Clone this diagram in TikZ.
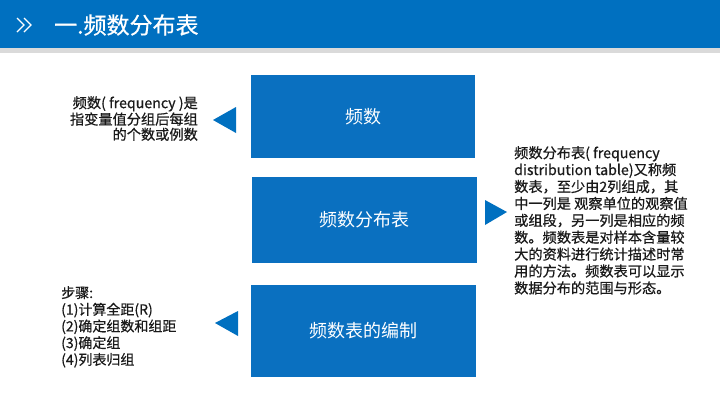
\documentclass[tikz,border=0pt]{standalone}
\usepackage{fontspec}
\setmainfont{Noto Sans CJK SC}
\newfontfamily\descfont[FakeBold=0.6]{Noto Sans CJK SC}
\usetikzlibrary{positioning}
\definecolor{hblue}{HTML}{0070C0}
\definecolor{bblue}{HTML}{0A70C0}
\definecolor{gstrip}{HTML}{DADADA}
\definecolor{txt}{HTML}{1A1A1A}
\begin{document}
\begin{tikzpicture}[x=1pt,y=-1pt,
  bluebox/.style={fill=bblue,draw=none,text=white,font=\fontsize{18}{21}\selectfont},
  tri/.style={fill=hblue,draw=none},
  desc/.style={text=txt,inner sep=0pt}]
\useasboundingbox (0,0) rectangle (720,405);
\fill[white] (0,0) rectangle (720,405);
% header
\fill[hblue] (0,0) rectangle (720,48);
\fill[gstrip] (0,48) rectangle (720,53);
\draw[white,line width=1.1pt] (17,18) -- (24,25) -- (17,32);
\draw[white,line width=1.1pt] (24,18) -- (31,25) -- (24,32);
\node[anchor=west,text=white,font=\fontsize{23}{27}\selectfont\descfont,inner sep=0pt] (title) at (54,25) {一.频数分布表};
% boxes
\path[bluebox] (251,75) rectangle (475,158) node[midway] (b1) {频数};
\path[bluebox] (252,177) rectangle (477,263) node[midway] (b2) {频数分布表};
\path[bluebox] (251,285) rectangle (476,377) node[midway] (b3) {频数表的编制};
% triangles
\fill[tri] (213,120) -- (236,107) -- (236,133) -- cycle;
\fill[tri] (507,212) -- (485,200) -- (485,225) -- cycle;
\fill[tri] (215,323) -- (238,311) -- (238,336) -- cycle;
% texts
\node[desc,anchor=north east,align=right,font=\fontsize{14.2}{15.2}\selectfont\descfont] (t1) at (198,96)
  {频数( frequency )是\\指变量值分组后每组\\的个数或例数};
\node[desc,anchor=north west,align=left,font=\fontsize{14.2}{16.9}\selectfont\descfont] (t2) at (514,146)
  {频数分布表( frequency\\distribution table)又称频\\数表，至少由2列组成，其\\中一列是 观察单位的观察值\\或组段，另一列是相应的频\\数。频数表是对样本含量较\\大的资料进行统计描述时常\\用的方法。频数表可以显示\\数据分布的范围与形态。};
\node[desc,anchor=north west,align=left,font=\fontsize{14}{16.7}\selectfont\descfont] (t3) at (61,286)
  {步骤:\\(1)计算全距(R)\\(2)确定组数和组距\\(3)确定组\\(4)列表归组};
\end{tikzpicture}
\end{document}
